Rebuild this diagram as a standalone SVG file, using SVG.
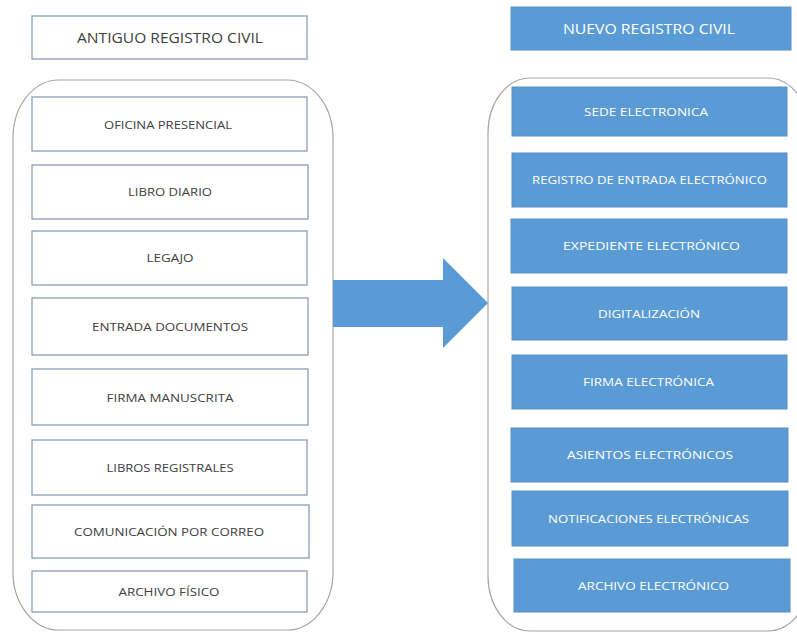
<svg xmlns="http://www.w3.org/2000/svg" width="797" height="632" viewBox="0 0 797 632">
<style>
.cont{fill:none;stroke:#A6A6A6;stroke-width:1.2}
.old rect{fill:#FFFFFF;stroke:#8C9DB3;stroke-width:1.3}
.old text{fill:#404040;font-family:"Open Sans","Liberation Sans",sans-serif;font-size:11.5px;text-anchor:middle}
.new rect{fill:#5B9BD5;stroke:#5A8FC4;stroke-width:1}
.new text{fill:#FFFFFF;font-family:"Open Sans","Liberation Sans",sans-serif;font-size:11px;text-anchor:middle}
.title text{font-size:14px}
</style>
<rect width="797" height="632" fill="#FFFFFF"/>
<g id="containers">
<rect class="cont" x="13" y="80" width="320" height="550" rx="46" ry="58"/>
<rect class="cont" x="488" y="78" width="322" height="553" rx="42" ry="55"/>
</g>
<g id="connectors">
<polygon points="333,280 443,280 443,258 488,303 443,348 443,327 333,327" fill="#5B9BD5"/>
</g>
<g id="antiguo" class="old title"><rect x="32" y="16" width="275" height="43"/><text x="170" y="42.5" textLength="186" lengthAdjust="spacingAndGlyphs">ANTIGUO REGISTRO CIVIL</text></g>
<g id="oficina" class="old"><rect x="32" y="97" width="275" height="54"/><text x="168" y="128.5" textLength="128" lengthAdjust="spacingAndGlyphs">OFICINA PRESENCIAL</text></g>
<g id="libro-diario" class="old"><rect x="32" y="165" width="276" height="54"/><text x="170" y="196" textLength="84" lengthAdjust="spacingAndGlyphs">LIBRO DIARIO</text></g>
<g id="legajo" class="old"><rect x="32" y="231" width="275" height="54"/><text x="170" y="262" textLength="47" lengthAdjust="spacingAndGlyphs">LEGAJO</text></g>
<g id="entrada" class="old"><rect x="32" y="298" width="276" height="57"/><text x="170" y="331" textLength="156" lengthAdjust="spacingAndGlyphs">ENTRADA DOCUMENTOS</text></g>
<g id="firma-manuscrita" class="old"><rect x="32" y="369" width="276" height="56"/><text x="170" y="401.5" textLength="127" lengthAdjust="spacingAndGlyphs">FIRMA MANUSCRITA</text></g>
<g id="libros-registrales" class="old"><rect x="32" y="440" width="275" height="55"/><text x="170" y="472" textLength="127" lengthAdjust="spacingAndGlyphs">LIBROS REGISTRALES</text></g>
<g id="comunicacion" class="old"><rect x="32" y="505" width="277" height="53"/><text x="169" y="535.5" textLength="190" lengthAdjust="spacingAndGlyphs">COMUNICACIÓN POR CORREO</text></g>
<g id="archivo-fisico" class="old"><rect x="32" y="571" width="275" height="41"/><text x="169" y="596" textLength="101" lengthAdjust="spacingAndGlyphs">ARCHIVO FÍSICO</text></g>
<g id="nuevo" class="new title"><rect x="511" y="7" width="280" height="43"/><text x="649" y="34" textLength="172" lengthAdjust="spacingAndGlyphs">NUEVO REGISTRO CIVIL</text></g>
<g id="sede" class="new"><rect x="512" y="87" width="275" height="49"/><text x="646" y="115.5" textLength="124" lengthAdjust="spacingAndGlyphs">SEDE ELECTRONICA</text></g>
<g id="registro-entrada" class="new"><rect x="512" y="153" width="275" height="54"/><text x="649.5" y="184" textLength="235" lengthAdjust="spacingAndGlyphs">REGISTRO DE ENTRADA ELECTRÓNICO</text></g>
<g id="expediente" class="new"><rect x="511" y="219" width="276" height="54"/><text x="651.5" y="250" textLength="177" lengthAdjust="spacingAndGlyphs">EXPEDIENTE ELECTRÓNICO</text></g>
<g id="digitalizacion" class="new"><rect x="512" y="287" width="275" height="53"/><text x="649" y="317.5" textLength="102" lengthAdjust="spacingAndGlyphs">DIGITALIZACIÓN</text></g>
<g id="firma-electronica" class="new"><rect x="512" y="355" width="275" height="54"/><text x="648.5" y="386" textLength="131" lengthAdjust="spacingAndGlyphs">FIRMA ELECTRÓNICA</text></g>
<g id="asientos" class="new"><rect x="511" y="428" width="277" height="54"/><text x="650" y="459" textLength="166" lengthAdjust="spacingAndGlyphs">ASIENTOS ELECTRÓNICOS</text></g>
<g id="notificaciones" class="new"><rect x="512" y="491" width="276" height="55"/><text x="648.5" y="522.5" textLength="201" lengthAdjust="spacingAndGlyphs">NOTIFICACIONES ELECTRÓNICAS</text></g>
<g id="archivo-electronico" class="new"><rect x="514" y="559" width="276" height="53"/><text x="653.5" y="589.5" textLength="151" lengthAdjust="spacingAndGlyphs">ARCHIVO ELECTRÓNICO</text></g>
</svg>
